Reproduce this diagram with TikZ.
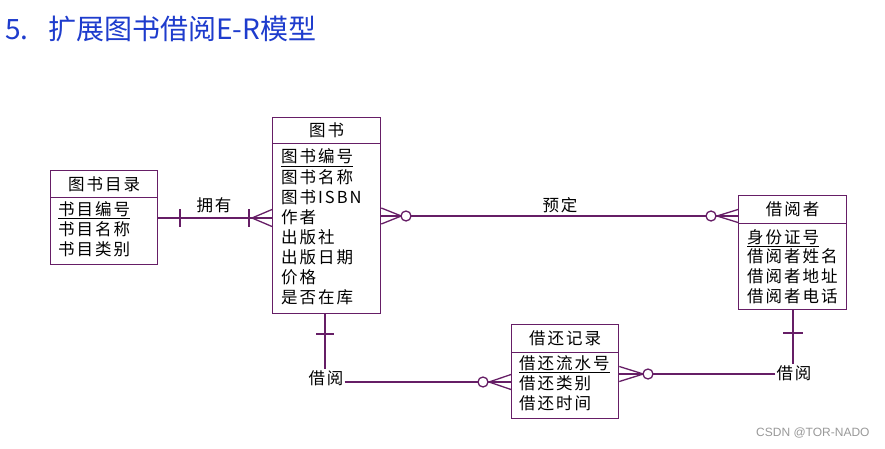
\documentclass[tikz,border=0pt]{standalone}
\usepackage{fontspec}
\newfontfamily\cjk[LetterSpace=12]{Noto Sans CJK SC}
\newfontfamily\cjkt{Noto Sans CJK SC}
\newfontfamily\wmfont{Liberation Sans}
\definecolor{erline}{RGB}{102,30,102}
\definecolor{ttlblue}{RGB}{30,60,205}
\tikzset{
  rel/.style={draw=erline, line width=1.3pt},
  ent/.style={draw=erline, line width=1.3pt, fill=white, inner sep=0pt, anchor=north west,
              font=\cjk\fontsize{16.5}{20}\selectfont},
  attr/.style={anchor=base west, inner sep=0pt, font=\cjk\fontsize{16.5}{20}\selectfont},
  lbl/.style={inner sep=1pt, font=\cjk\fontsize{16.5}{20}\selectfont},
  opt/.style={draw=erline, line width=1.3pt, fill=white},
  ttlstyle/.style={anchor=base west, inner sep=0pt, text=ttlblue, font=\cjkt\fontsize{28}{30}\selectfont},
}
\begin{document}
\begin{tikzpicture}[x=1pt,y=-1pt]
\useasboundingbox[fill=white] (0,0) rectangle (885,449);

% title
\node[ttlstyle] (t5) at (5,40) {5.};
\node[ttlstyle] (ttl) at (48,40) {扩展图书借阅E-R模型};

% entities
\node[ent, minimum width=107pt, minimum height=27pt] (tsmlh) at (50,170) {图书目录};
\node[ent, minimum width=107pt, minimum height=67pt] (tsml) at (50,197) {};
\node[ent, minimum width=108pt, minimum height=26pt] (tsh) at (272,117) {图书};
\node[ent, minimum width=108pt, minimum height=170pt] (ts) at (272,143) {};
\node[ent, minimum width=108pt, minimum height=28pt] (jyzh) at (738,195) {借阅者};
\node[ent, minimum width=108pt, minimum height=86pt] (jyz) at (738,223) {};
\node[ent, minimum width=107pt, minimum height=28pt] (jhjlh) at (511,324) {借还记录};
\node[ent, minimum width=107pt, minimum height=66pt] (jhjl) at (511,352) {};

% attributes
\foreach \t [count=\i] in {{\underline{书目编号}},书目名称,书目类别}
  \node[attr] (tsml-\i) at (58,{215+(\i-1)*20}) {\t};
\foreach \t [count=\i] in {{\underline{图书编号}},图书名称,图书ISBN,作者,出版社,出版日期,价格,是否在库}
  \node[attr] (ts-\i) at (281,{163+(\i-1)*20}) {\t};
\foreach \t [count=\i] in {{\underline{身份证号}},借阅者姓名,借阅者地址,借阅者电话}
  \node[attr] (jyz-\i) at (747,{243+(\i-1)*19.7}) {\t};
\foreach \t [count=\i] in {{\underline{借还流水号}},借还类别,借还时间}
  \node[attr] (jhjl-\i) at (519,{369+(\i-1)*20}) {\t};

% relationship labels
\node[lbl] (yy) at (214,205) {拥有};
\node[lbl] (yd) at (560,205) {预定};
\node[lbl] (jy1) at (326,378) {借阅};
\node[lbl] (jy2) at (794,373) {借阅};

% 拥有
\coordinate (c1a) at (tsml.east |- 0,218);
\coordinate (c1b) at (ts.west |- 0,218);
\draw[rel] (c1a) -- (c1b);
\draw[rel] (180,209) -- (180,227);
\draw[rel] (249,209) -- (249,227);
\draw[rel] (c1b) ++(0,-8.5) -- ++(-20,8.5) -- ++(20,8.5);

% 预定
\coordinate (c2a) at (ts.east |- 0,216);
\coordinate (c2b) at (jyz.west |- 0,216);
\draw[rel] (c2a) -- (c2b);
\draw[rel] (c2a) ++(0,-8) -- ++(20,8) -- ++(-20,8);
\draw[opt] (406,216) circle[radius=5pt];
\draw[rel] (c2b) ++(0,-6.5) -- ++(-21,6.5) -- ++(21,6.5);
\draw[opt] (711,216) circle[radius=5pt];

% 借阅 (图书 - 借还记录)
\coordinate (c3a) at (ts.south -| 325,0);
\draw[rel] (c3a) -- (c3a |- jy1.north);
\draw[rel] (316,334) -- (334,334);
\coordinate (c3b) at (jy1.east |- 0,382);
\coordinate (c3c) at (jhjl.west |- 0,382);
\draw[rel] (c3b) -- (c3c);
\draw[rel] (c3c) ++(0,-7.5) -- ++(-22,7.5) -- ++(22,7.5);
\draw[opt] (483,382) circle[radius=5pt];

% 借阅 (借阅者 - 借还记录)
\coordinate (c4a) at (jyz.south -| 793,0);
\draw[rel] (c4a) -- (c4a |- jy2.north);
\draw[rel] (783,333) -- (803,333);
\coordinate (c4b) at (jy2.west |- 0,374);
\coordinate (c4c) at (jhjl.east |- 0,374);
\draw[rel] (c4b) -- (c4c);
\draw[rel] (c4c) ++(0,-7.5) -- ++(24,7.5) -- ++(-24,7.5);
\draw[opt] (648,374) circle[radius=5pt];

% watermark
\node[anchor=west, inner sep=0pt, text=black!40, font=\wmfont\fontsize{12}{14}\selectfont] (wm) at (756,433) {CSDN @TOR-NADO};
\end{tikzpicture}
\end{document}
